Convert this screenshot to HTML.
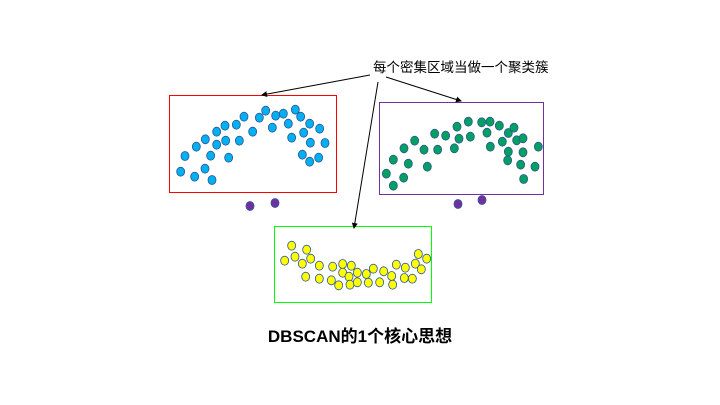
<!DOCTYPE html>
<html><head><meta charset="utf-8"><style>
html,body{margin:0;padding:0;background:#fff;width:720px;height:405px;overflow:hidden}
svg text{font-family:"Liberation Sans","Noto Sans CJK SC",sans-serif}
</style></head><body>
<svg id="s" width="720" height="405" viewBox="0 0 720 405">
<defs><marker id="ah" markerWidth="6" markerHeight="6" refX="5" refY="3" orient="auto"><path d="M0,0 L6,3 L0,6 z" fill="#000"/></marker></defs>
<rect x="169.5" y="95.5" width="167" height="97" fill="none" stroke="#f00" stroke-width="1"/>
<rect x="379.5" y="102.5" width="164" height="92" fill="none" stroke="#7030a0" stroke-width="1"/>
<rect x="274.5" y="226.5" width="157" height="76" fill="none" stroke="#0f0" stroke-width="1"/>
<g id="dots"></g>
<text x="373" y="72" font-size="13.5" fill="#000">每个密集区域当做一个聚类簇</text>
<line x1="370" y1="75" x2="262" y2="95" stroke="#000" stroke-width="1" marker-end="url(#ah)"/>
<line x1="386" y1="77" x2="461" y2="101" stroke="#000" stroke-width="1" marker-end="url(#ah)"/>
<line x1="378" y1="82" x2="354" y2="228" stroke="#000" stroke-width="1" marker-end="url(#ah)"/>
<text x="360" y="342" font-size="17" font-weight="bold" text-anchor="middle" fill="#000">DBSCAN的1个核心思想</text>
</svg>
<script>
const blueX=[47,89,120,141,60,94,121,137,155,155,180,182,191,214,223,237,263,283,302,322,332,355,370,391,380,407,416,434,436,464,480,412,434,461];
const blueY=[245,260,236,270,198,170,148,197,164,125,107,152,203,104,152,80,125,83,62,113,77,71,101,59,143,80,128,101,158,116,159,194,215,203];
const greenX=[34,55,55,87,86,100,119,147,157,179,188,212,238,246,252,280,286,320,345,336,346,373,382,400,417,400,398,425,444,444,437,446,480,490];
const greenY=[227,263,185,151,239,197,128,155,206,107,155,113,151,86,122,71,116,73,71,104,146,83,131,105,89,161,187,127,121,163,200,243,206,146];
const yellowX=[44,65,75,97,110,122,107,148,148,184,188,206,218,218,237,240,244,262,262,289,295,310,329,341,365,368,379,403,406,427,436,445,454,470];
const yellowY=[116,71,104,125,83,110,164,131,170,175,134,190,126,152,164,188,131,152,181,156,182,140,181,148,162,188,128,168,137,170,125,96,142,110];
const noiseX=[250,275,458,482];
const noiseY=[206,203,204,200];
const g=document.getElementById('dots');
function dot(x,y,fill,name){
  const c=document.createElementNS('http://www.w3.org/2000/svg','ellipse');
  c.setAttribute('cx',x);c.setAttribute('cy',y);c.setAttribute('rx',4);c.setAttribute('ry',4.5);
  c.setAttribute('fill',fill);c.setAttribute('stroke','#2f5597');c.setAttribute('stroke-width',0.8);
  
  
  g.appendChild(c);
}
blueX.forEach((v,i)=>dot(165+v/3,90+blueY[i]/3,'#00b0f0','blue-point'));
greenX.forEach((v,i)=>dot(375+v/3,98+greenY[i]/3,'#00a060','green-point'));
yellowX.forEach((v,i)=>dot(270+v/3,222+yellowY[i]/3,'#ffff00','yellow-point'));
noiseX.forEach((v,i)=>dot(v,noiseY[i],'#7030a0','noise-point'));
</script>
</body></html>
